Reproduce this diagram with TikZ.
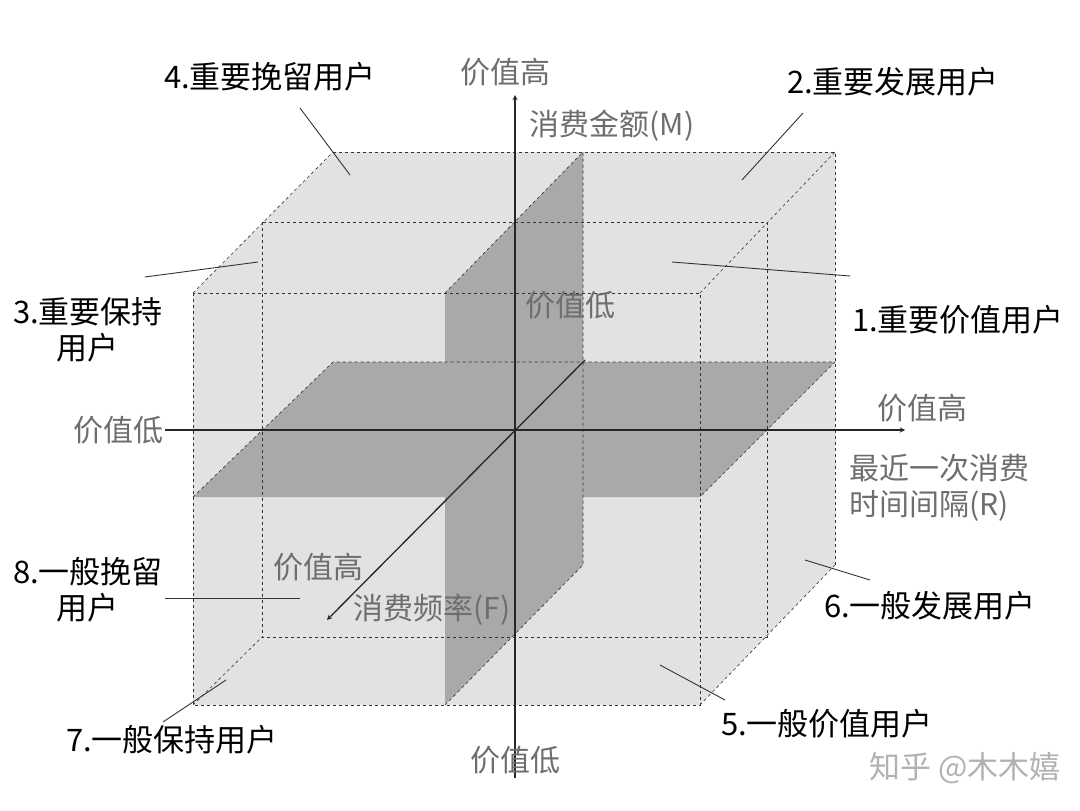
\documentclass[tikz,border=0pt]{standalone}
\usepackage{fontspec}
\setmainfont{Noto Sans CJK SC}
\usetikzlibrary{positioning}
\definecolor{lightface}{HTML}{E2E2E2}
\definecolor{darkface}{HTML}{A9A9A9}
\definecolor{axislabel}{HTML}{6E6E6E}
\tikzset{
  edge/.style = {dashed, semithick, black!80},
  axis/.style = {-stealth, line width=1.3pt, black!85},
  lead/.style = {line width=0.9pt, black!80},
  tag/.style = {font=\fontsize{31}{36}\selectfont, text=black, align=center, inner sep=1pt},
  gtag/.style = {font=\fontsize{30}{36}\selectfont, text=axislabel, align=left, inner sep=1pt}
}
\begin{document}
\begin{tikzpicture}[x=1pt, y=-1pt]
\useasboundingbox (0,0) rectangle (1080,811);
% cube body
\fill [lightface] (193,705) -- (193,293) -- (333,152) -- (835,152) -- (835,565) -- (700,705) -- cycle;
\fill [darkface] (193,497) -- (700,497) -- (835,362) -- (333,362) -- cycle;
\fill [darkface] (445,293) -- (583,152) -- (583,565) -- (445,705) -- cycle;
% dashed edges
\draw [edge] (193,293) rectangle (700,705);
\draw [edge] (262,222) rectangle (767,637);
\draw [edge] (333,152) -- (835,152) -- (835,565);
\draw [edge] (193,293) -- (333,152) (700,293) -- (835,152)
  (700,705) -- (835,565) (193,705) -- (262,637);
\draw [edge] (193,497) -- (333,362) -- (835,362) -- (700,497);
\draw [edge] (445,293) -- (583,152) -- (583,565) -- (445,705);
% axes
\coordinate (yb) at (515,778);
\coordinate (yt) at (515,95);
\coordinate (xl) at (165,430);
\coordinate (xr) at (905,430);
\coordinate (zb) at (585,360);
\coordinate (zf) at (327,620);
\draw [axis] (yb) -- (yt);
\draw [axis] (xl) -- (xr);
\draw [axis] (zb) -- (zf);
% axis labels
\node [gtag] (mhi) at (505,72) {价值高};
\node [gtag] (mname) at (612,126) {消费金额(M)};
\node [gtag] (mlo) at (515,760) {价值低};
\node [gtag, anchor=east] (rlo) at (xl) {价值低};
\node [gtag] (rhi) at (922,408) {价值高};
\node [gtag, anchor=west] (rname) at (848,488) {最近一次消费\\时间间隔(R)};
\node [gtag] (flo) at (570,305) {价值低};
\node [gtag] (fhi) at (318,567) {价值高};
\node [gtag] (fname) at (432,610) {消费频率(F)};
% segment labels
\node [tag] (s4) at (270,77) {4.重要挽留用户};
\node [tag] (s2) at (893,82) {2.重要发展用户};
\node [tag] (s3) at (88,330) {3.重要保持\\用户};
\node [tag] (s1) at (958,320) {1.重要价值用户};
\node [tag] (s8) at (88,590) {8.一般挽留\\用户};
\node [tag] (s6) at (930,606) {6.一般发展用户};
\node [tag] (s7) at (172,740) {7.一般保持用户};
\node [tag] (s5) at (827,724) {5.一般价值用户};
\node [tag, text=black!30] (mark) at (965,768) {知乎 @木木嬉};
% leader lines
\coordinate (p4) at (350,175);
\coordinate (p2) at (742,180);
\coordinate (p3) at (258,262);
\coordinate (p1) at (672,262);
\coordinate (p8) at (300,598);
\coordinate (p6) at (805,560);
\coordinate (p7) at (226,680);
\coordinate (p5) at (660,665);
\draw [lead] (300,108) -- (p4);
\draw [lead] (803,113) -- (p2);
\draw [lead] (145,277) -- (p3);
\draw [lead] (850,276) -- (p1);
\draw [lead] (165,598) -- (p8);
\draw [lead] (870,580) -- (p6);
\draw [lead] (163,722) -- (p7);
\draw [lead] (725,700) -- (p5);
\end{tikzpicture}
\end{document}
